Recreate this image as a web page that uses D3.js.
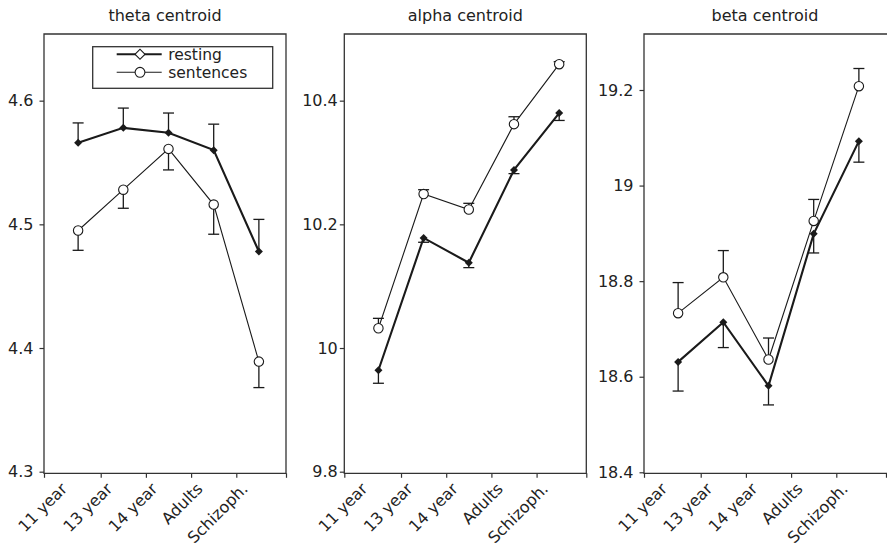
<!DOCTYPE html>
<html>
<head>
<meta charset="utf-8">
<script src="https://cdnjs.cloudflare.com/ajax/libs/d3/7.8.5/d3.min.js"></script>
<style>
	body { margin: 0; background: #fff; }
	svg text { font-family: "DejaVu Sans", sans-serif; fill: #222; }
	.frame { fill: none; stroke: #333; stroke-width: 1.3px; }
	.axis path { display: none; }
	.axis line { stroke: #333; stroke-width: 1.2px; }
	.axis text { font-size: 16px; fill: #222; }
</style>
</head>
<body>
<div id="chart"></div>
<script>
	'use strict';

	var categories = ["11 year", "13 year", "14 year", "Adults", "Schizoph."];

	// theta centroid
	var thetaResting = [4.566, 4.578, 4.574, 4.560, 4.478];
	var thetaRestingSE = [0.016, 0.016, 0.016, 0.021, 0.026];
	var thetaSentences = [4.495, 4.528, 4.561, 4.516, 4.389];
	var thetaSentencesSE = [0.016, 0.015, 0.017, 0.024, 0.021];
	var thetaTicks = [4.3, 4.4, 4.5, 4.6];

	// alpha centroid
	var alphaResting = [9.964, 10.178, 10.138, 10.288, 10.380];
	var alphaRestingSE = [0.021, 0.007, 0.008, 0.006, 0.012];
	var alphaSentences = [10.032, 10.249, 10.224, 10.362, 10.459];
	var alphaSentencesSE = [0.016, 0.007, 0.010, 0.012, 0.004];
	var alphaTicks = [9.8, 10, 10.2, 10.4];

	// beta centroid
	var betaResting = [18.631, 18.714, 18.581, 18.899, 19.093];
	var betaRestingSE = [0.061, 0.053, 0.040, 0.040, 0.044];
	var betaSentences = [18.733, 18.808, 18.636, 18.926, 19.208];
	var betaSentencesSE = [0.064, 0.056, 0.045, 0.045, 0.037];
	var betaTicks = [18.4, 18.6, 18.8, 19, 19.2];

	var width = 887, height = 546;
	var plotTop = 34, plotBottom = 473.3, panelWidth = 242;

	// restingDir: +1 error bar drawn upward, -1 downward
	var panels = [
		{ title: "theta centroid", left: 44, domain: [4.2987, 4.6539], ticks: thetaTicks,
			resting: thetaResting, restingSE: thetaRestingSE, sentences: thetaSentences, sentencesSE: thetaSentencesSE,
			restingDir: 1, pad: 6, legend: true },
		{ title: "alpha centroid", left: 344.3, domain: [9.7974, 10.5078], ticks: alphaTicks,
			resting: alphaResting, restingSE: alphaRestingSE, sentences: alphaSentences, sentencesSE: alphaSentencesSE,
			restingDir: -1, pad: 2 },
		{ title: "beta centroid", left: 644, domain: [18.3979, 19.3172], ticks: betaTicks,
			resting: betaResting, restingSE: betaRestingSE, sentences: betaSentences, sentencesSE: betaSentencesSE,
			restingDir: -1, pad: 6, openRight: true }
	];

	var svg = d3.select("#chart").append("svg")
		.attr("width", width)
		.attr("height", height);

	var ink = "#1a1a1a";
	var diamond = d3.symbol().type(d3.symbolSquare);

	function drawPanel(p) {
		var w = p.openRight ? panelWidth + 4 : panelWidth;
		var g = svg.append("g")
			.attr("transform", "translate(" + p.left + ",0)");

		var x = d3.scaleLinear().domain([-0.755, 4.6]).range([0, panelWidth]);
		var y = d3.scaleLinear().domain(p.domain).range([plotBottom, plotTop]);

		// title
		g.append("text")
			.attr("x", panelWidth / 2)
			.attr("y", 21)
			.attr("text-anchor", "middle")
			.style("font-size", "16px")
			.text(p.title);

		// y axis
		g.append("g")
			.attr("class", "axis")
			.call(d3.axisLeft(y).tickValues(p.ticks).tickSizeInner(4.5).tickSizeOuter(0)
				.tickPadding(p.pad).tickFormat(function (d) { return String(d); }));

		// x axis ticks at group boundaries
		g.append("g")
			.attr("class", "axis")
			.attr("transform", "translate(0," + plotBottom + ")")
			.call(d3.axisBottom(x).tickValues([-0.755, 0.5, 1.5, 2.5, 3.5, 4.6])
				.tickSizeInner(4.5).tickSizeOuter(0).tickFormat(""));

		// rotated category labels
		g.selectAll(".xlabel")
			.data(categories)
			.enter().append("text")
			.attr("class", "xlabel")
			.attr("text-anchor", "end")
			.style("font-size", "16px")
			.attr("transform", function (d, i) {
				return "translate(" + (x(i) - 10) + "," + (plotBottom + 16.5) + ") rotate(-45)";
			})
			.text(function (d) { return d; });

		// frame
		g.append("path")
			.attr("class", "frame")
			.attr("d", p.openRight
				? "M" + w + "," + plotTop + "H0V" + plotBottom + "H" + w
				: "M0," + plotTop + "H" + w + "V" + plotBottom + "H0Z");

		var line = d3.line()
			.x(function (d, i) { return x(i); })
			.y(function (d) { return y(d); });

		g.append("path")
			.datum(p.sentences)
			.attr("fill", "none")
			.attr("stroke", ink)
			.attr("stroke-width", 1.1)
			.attr("d", line);

		g.append("path")
			.datum(p.resting)
			.attr("fill", "none")
			.attr("stroke", ink)
			.attr("stroke-width", 2.1)
			.attr("d", line);

		// error bars
		function errorBars(values, se, dir) {
			var eb = g.append("g").attr("stroke", ink).attr("stroke-width", 1.3);
			values.forEach(function (v, i) {
				var end = y(v + dir * se[i]);
				eb.append("line")
					.attr("x1", x(i)).attr("x2", x(i))
					.attr("y1", y(v)).attr("y2", end);
				eb.append("line")
					.attr("x1", x(i) - 5.5).attr("x2", x(i) + 5.5)
					.attr("y1", end).attr("y2", end);
			});
		}
		errorBars(p.sentences, p.sentencesSE, -p.restingDir);
		errorBars(p.resting, p.restingSE, p.restingDir);

		// markers
		g.selectAll(".circ")
			.data(p.sentences)
			.enter().append("circle")
			.attr("class", "circ")
			.attr("cx", function (d, i) { return x(i); })
			.attr("cy", function (d) { return y(d); })
			.attr("r", 4.7)
			.attr("fill", "#fff")
			.attr("stroke", ink)
			.attr("stroke-width", 1.1);

		g.selectAll(".diam")
			.data(p.resting)
			.enter().append("path")
			.attr("class", "diam")
			.attr("d", diamond.size(32))
			.attr("transform", function (d, i) {
				return "translate(" + x(i) + "," + y(d) + ") rotate(45)";
			})
			.attr("fill", ink);

		if (p.legend) {
			var lg = g.append("g").attr("transform", "translate(48.7,46.7)");
			lg.append("rect")
				.attr("width", 180).attr("height", 41.6)
				.attr("fill", "#fff").attr("stroke", "#333").attr("stroke-width", 1.3);
			lg.append("line")
				.attr("x1", 24).attr("x2", 69).attr("y1", 7.6).attr("y2", 7.6)
				.attr("stroke", ink).attr("stroke-width", 2.1);
			lg.append("path")
				.attr("d", diamond.size(50))
				.attr("transform", "translate(47.3,7.6) rotate(45)")
				.attr("fill", "#fff").attr("stroke", ink).attr("stroke-width", 1.1);
			lg.append("text").attr("x", 75.5).attr("y", 13.6).style("font-size", "15.5px").text("resting");
			lg.append("line")
				.attr("x1", 24).attr("x2", 69).attr("y1", 25.6).attr("y2", 25.6)
				.attr("stroke", ink).attr("stroke-width", 1.1);
			lg.append("circle")
				.attr("cx", 47.3).attr("cy", 25.6).attr("r", 4.9)
				.attr("fill", "#fff").attr("stroke", ink).attr("stroke-width", 1.1);
			lg.append("text").attr("x", 75.5).attr("y", 31.4).style("font-size", "15.5px").text("sentences");
		}
	}

	panels.forEach(drawPanel);
</script>
</body>
</html>
